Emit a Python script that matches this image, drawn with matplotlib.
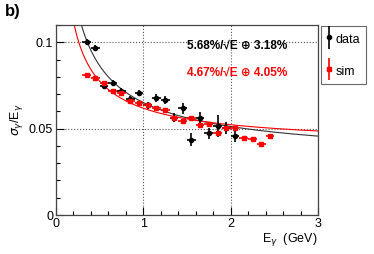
import numpy as np
import matplotlib
matplotlib.use("Agg")
import matplotlib.pyplot as plt
from matplotlib.ticker import MultipleLocator, FuncFormatter
from matplotlib.legend_handler import HandlerErrorbar

plt.rcParams['font.family'] = ['Liberation Sans', 'DejaVu Sans']

# data points (E in GeV, resolution sigma/E)
e_data = [0.35, 0.45, 0.55, 0.65, 0.75, 0.85, 0.95, 1.05, 1.15, 1.25,
          1.35, 1.45, 1.55, 1.65, 1.75, 1.85, 1.95, 2.05]
res_data = [0.1002, 0.0965, 0.0748, 0.0763, 0.0718, 0.0670, 0.0706, 0.0636,
            0.0678, 0.0664, 0.0562, 0.0617, 0.0437, 0.0559, 0.0472, 0.0514,
            0.0503, 0.0455]
err_data = [0.0018, 0.0017, 0.0017, 0.0018, 0.0018, 0.0018, 0.0019, 0.0020,
            0.0022, 0.0024, 0.0026, 0.0030, 0.0040, 0.0039, 0.0032, 0.0065,
            0.0035, 0.0030]

e_sim = [0.35, 0.45, 0.55, 0.65, 0.75, 0.85, 0.95, 1.05, 1.15, 1.25, 1.35,
         1.45, 1.55, 1.65, 1.75, 1.85, 1.95, 2.05, 2.15, 2.25, 2.35, 2.45]
res_sim = [0.0809, 0.0795, 0.0763, 0.0715, 0.0705, 0.0662, 0.0650, 0.0635,
           0.0618, 0.0607, 0.0560, 0.0545, 0.0559, 0.0521, 0.0524, 0.0477,
           0.0505, 0.0503, 0.0447, 0.0438, 0.0410, 0.0458]
err_sim = [0.0008] * len(e_sim)

bin_half = 0.05

# fit parameters: sigma/E = a/sqrt(E) (+) b
a_data, b_data = 0.0568, 0.0318
a_sim, b_sim = 0.0467, 0.0405

fig = plt.figure(figsize=(3.74, 2.54), dpi=100)
ax = fig.add_axes([0.1497, 0.1535, 0.7006, 0.7481])

ax.grid(True, which='major', linestyle=':', color='#555555', linewidth=0.8)
ax.set_axisbelow(True)

ee = np.linspace(0.15, 3.0, 400)
ax.plot(ee, np.sqrt((a_data / np.sqrt(ee))**2 + b_data**2), color='#333333', lw=0.8)
ax.plot(ee, np.sqrt((a_sim / np.sqrt(ee))**2 + b_sim**2), color='red', lw=0.8)

ax.errorbar(e_data, res_data, xerr=bin_half, yerr=err_data, fmt='o',
            color='black', ms=3, lw=1.2, capsize=0)
ax.errorbar(e_sim, res_sim, xerr=bin_half, yerr=err_sim, fmt='s',
            color='red', ms=3.5, lw=1.2, capsize=0)

# legend proxies: vertical bar only
h_data = ax.errorbar([np.nan], [np.nan], yerr=[0.001], fmt='o', color='black',
                     ms=3, lw=1.2, capsize=0)
h_sim = ax.errorbar([np.nan], [np.nan], yerr=[0.001], fmt='s', color='red',
                    ms=3.5, lw=1.2, capsize=0)

ax.set_xlim(0, 3)
ax.set_ylim(0, 0.11)
ax.xaxis.set_major_locator(MultipleLocator(1))
ax.xaxis.set_minor_locator(MultipleLocator(0.2))
ax.yaxis.set_major_locator(MultipleLocator(0.05))
ax.yaxis.set_minor_locator(MultipleLocator(0.01))
ax.xaxis.set_major_formatter(FuncFormatter(lambda v, p: '%d' % round(v)))
ax.yaxis.set_major_formatter(FuncFormatter(lambda v, p: '0' if abs(v) < 1e-9 else '%g' % round(v, 3)))
ax.tick_params(which='major', direction='in', length=6, width=0.8,
               labelsize=9, top=False, right=False, pad=2)
ax.tick_params(which='minor', direction='in', length=3, width=0.8,
               top=False, right=False)
for s in ax.spines.values():
    s.set_color('#444444')
    s.set_linewidth(0.9)

ax.set_xlabel(r'E$_{\gamma}$  (GeV)', fontsize=9, loc='right', labelpad=1)
ax.set_ylabel(r'$\sigma_{\gamma}$/E$_{\gamma}$', fontsize=9, labelpad=1)
ax.yaxis.set_label_coords(-0.12, 0.5)

ax.text(0.69, 0.891, '5.68%/\u221aE \u2295 3.18%', transform=ax.transAxes,
        fontsize=8.5, fontweight='bold', color='black', ha='center', va='center')
ax.text(0.69, 0.751, '4.67%/\u221aE \u2295 4.05%', transform=ax.transAxes,
        fontsize=8.5, fontweight='bold', color='red', ha='center', va='center')

fig.text(0.014, 0.955, 'b)', fontsize=12, fontweight='bold', ha='left', va='center')

leg = fig.legend([h_data, h_sim], ['data', 'sim'], loc='upper left',
                 bbox_to_anchor=(0.859, 0.898), fontsize=9, frameon=True,
                 fancybox=False, edgecolor='#444444', handlelength=0.4,
                 handletextpad=0.3, borderpad=0.45, labelspacing=1.3,
                 borderaxespad=0, handleheight=1.5,
                 handler_map={h_data: HandlerErrorbar(yerr_size=0.9),
                              h_sim: HandlerErrorbar(yerr_size=0.9)})
leg.get_frame().set_linewidth(0.8)

fig.savefig('out.png', dpi=100)
